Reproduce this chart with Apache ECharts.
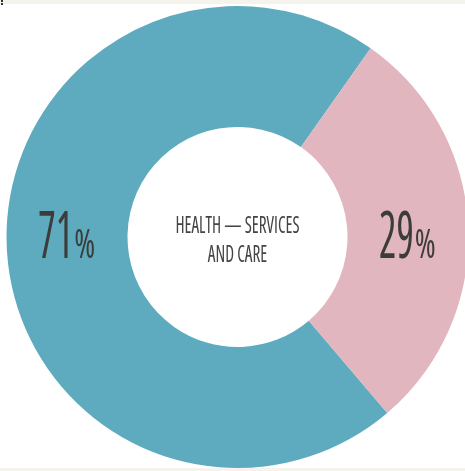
<!DOCTYPE html>
<html>
<head>
<meta charset="utf-8">
<script src="https://cdn.jsdelivr.net/npm/echarts@6/dist/echarts.min.js"></script>
<style>
  html, body { margin: 0; padding: 0; background: #fff; }
  #chart { width: 465px; height: 471px; }
</style>
</head>
<body>
<div id="chart"></div>
<script>
// share split
const categories = ['Other', 'Health — services and care']
const shares = [71, 29]
const colors = ['#5eabbf', '#e1b6be']
const centerLines = ['HEALTH — SERVICES', 'AND CARE']

const cx = 237.5
const cy = 237
const radius = [110, 231]
// teal slice starts at ~139.6deg clockwise from 12 o'clock
const startCW = 139.6
const ink = '#3c3c3a'

const total = shares.reduce((a, b) => a + b, 0)
const midR = (radius[0] + radius[1]) / 2

// percent labels, squeezed like the condensed original type
const labelGraphics = []
let acc = 0
shares.forEach((v, i) => {
  const mid = (startCW + (acc + v / 2) / total * 360) * Math.PI / 180
  acc += v
  const x = cx + midR * Math.sin(mid) + 6
  labelGraphics.push({
    type: 'text',
    x: x,
    y: cy + 35,
    scaleX: 0.62,
    z: 20,
    style: {
      text: String(v),
      font: 'normal 400 extra-condensed 66px "Open Sans"',
      fill: ink,
      align: 'right',
      verticalAlign: 'bottom'
    }
  })
  labelGraphics.push({
    type: 'text',
    x: x + 1,
    y: cy + 30,
    scaleX: 0.8,
    z: 20,
    style: {
      text: '%',
      font: 'normal 400 extra-condensed 40px "Open Sans"',
      fill: ink,
      align: 'left',
      verticalAlign: 'bottom'
    }
  })
})

const chart = echarts.init(document.getElementById('chart'), null, { renderer: 'canvas' })

chart.setOption({
  animation: false,
  backgroundColor: '#fff',
  graphic: [
    { type: 'rect', left: 0, top: 0, shape: { width: 465, height: 4 }, style: { fill: '#f4f3ec' }, z: 10 },
    { type: 'rect', left: 0, top: 468, shape: { width: 465, height: 3 }, style: { fill: '#f4f3ec' }, z: 10 },
    { type: 'rect', left: 1, top: 0, shape: { width: 2, height: 2 }, style: { fill: '#333' }, z: 11 },
    { type: 'rect', left: 1, top: 3, shape: { width: 2, height: 2 }, style: { fill: '#333' }, z: 11 },
    {
      type: 'text',
      x: cx,
      y: cy + 4,
      scaleX: 0.72,
      z: 20,
      style: {
        text: centerLines.join('\n'),
        font: 'normal 500 extra-condensed 24px "Open Sans"',
        lineHeight: 29,
        fill: '#444',
        align: 'center',
        verticalAlign: 'middle'
      }
    }
  ].concat(labelGraphics),
  series: [{
    type: 'pie',
    center: [cx, cy],
    radius: radius,
    startAngle: 90 - startCW,
    clockwise: true,
    silent: true,
    itemStyle: { borderWidth: 0 },
    label: { show: false },
    labelLine: { show: false },
    data: categories.map((name, i) => ({
      name: name,
      value: shares[i],
      itemStyle: { color: colors[i] }
    }))
  }]
})
</script>
</body>
</html>
